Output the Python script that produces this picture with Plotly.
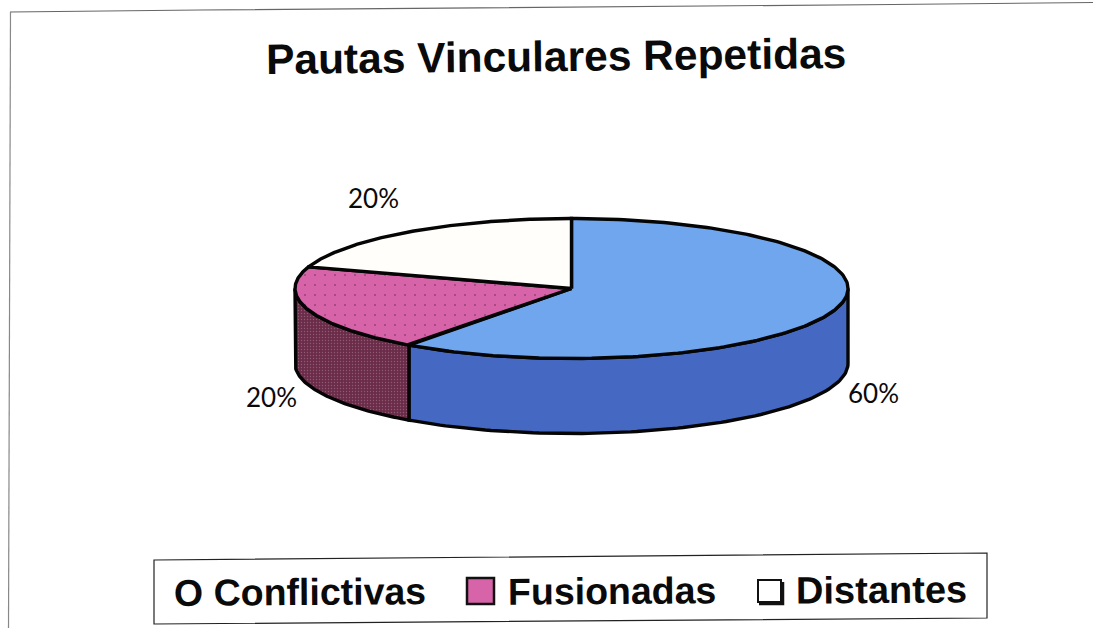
import numpy as np
import plotly.graph_objects as go

categories = ["Conflictivas", "Fusionadas", "Distantes"]
values = [60, 20, 20]
labels = ["60%", "20%", "20%"]
title = "Pautas Vinculares Repetidas"

top_colors = ["#6FA6EE", "#D763A8", "#FFFEFA"]
side_colors = ["#4569C2", "#6B2C4A", "#FFFEFA"]
dot_colors = [None, "#5A2048", None]
side_dot_colors = [None, "#B08C9C", None]

CX, CY, RX, RY, DEPTH = 571.5, 288.5, 276.5, 70, 75

def pt(deg, dy=0.0):
    a = np.radians(deg)
    return CX + RX * np.sin(a), CY - RY * np.cos(a) + dy

fig = go.Figure()
line = dict(color="#050505", width=3.4)
edges = np.concatenate([[0], np.cumsum(values)]) * 3.6

# side walls (only the front half, clockwise-degree 90..270, is visible)
for i in range(3):
    a0, a1 = max(edges[i], 90), min(edges[i + 1], 270)
    if a1 <= a0:
        continue
    t = np.linspace(a0, a1, 100)
    xt, yt = pt(t)
    xb, yb = pt(t[::-1], DEPTH)
    x = np.r_[xt, xb, xt[0]]
    y = np.r_[yt, yb, yt[0]]
    kw = {}
    if side_dot_colors[i]:
        kw["fillpattern"] = dict(shape=".", fgcolor=side_dot_colors[i], bgcolor=side_colors[i], size=3, solidity=0.15)
    fig.add_trace(go.Scatter(x=x, y=y, mode="lines", fill="toself", fillcolor=side_colors[i],
                             line=line, showlegend=False, hoverinfo="skip", **kw))

# top faces
for i in range(3):
    t = np.linspace(edges[i], edges[i + 1], 200)
    xt, yt = pt(t)
    x = np.r_[CX, xt, CX]
    y = np.r_[CY, yt, CY]
    kw = {}
    if dot_colors[i]:
        kw["fillpattern"] = dict(shape=".", fgcolor=dot_colors[i], bgcolor=top_colors[i], size=10, solidity=0.03)
    fig.add_trace(go.Scatter(x=x, y=y, mode="lines", fill="toself", fillcolor=top_colors[i],
                             line=line, name=categories[i], showlegend=False,
                             hovertemplate=categories[i] + ": " + labels[i] + "<extra></extra>", **kw))

def note(text, x, y, size, family="Liberation Sans", bold=False, angle=0, anchor="center"):
    fig.add_annotation(x=x, y=y, text=f"<b>{text}</b>" if bold else text, showarrow=False,
                       xanchor=anchor, yanchor="middle", textangle=angle,
                       font=dict(family=family, size=size, color="#0A0A0A"))

note(title, 556, 56.5, 42.5, bold=True, angle=-0.6)
note(labels[0], 873, 393, 26, family="Lato")
note(labels[1], 271, 397, 26, family="Lato")
note(labels[2], 373, 198, 26, family="Lato")

# legend
note("O " + categories[0], 300, 592, 37.5, bold=True, angle=-0.4)
note(categories[1], 611.5, 590.5, 37.5, bold=True, angle=-0.4)
note(categories[2], 881.5, 589.5, 38, bold=True, angle=-0.4)

shapes = [
    dict(type="path", path="M 154 560 L 987 553 L 987 618 L 154 624 Z",
         line=dict(color="#222222", width=1.2), fillcolor="rgba(255,255,255,0)"),
    dict(type="rect", x0=467, x1=494, y0=578, y1=604, fillcolor=top_colors[1],
         line=dict(color="#111111", width=2.5)),
    dict(type="rect", x0=758, x1=781, y0=580, y1=602, fillcolor="#FFFFFF",
         line=dict(color="#111111", width=2)),
    dict(type="path", path="M 759 604 L 783 604 L 783 582", line=dict(color="#111111", width=2.5)),
    dict(type="path", path="M 10 12 L 200 10 L 893 4.5 L 1093 2.5", line=dict(color="#666666", width=1.2)),
    dict(type="path", path="M 10.5 12 L 8.5 628", line=dict(color="#888888", width=1.2)),
]

fig.update_layout(
    width=1093, height=628, margin=dict(l=0, r=0, t=0, b=0),
    paper_bgcolor="white", plot_bgcolor="white", showlegend=False, shapes=shapes,
    xaxis=dict(range=[0, 1093], visible=False, fixedrange=True),
    yaxis=dict(range=[628, 0], visible=False, fixedrange=True),
)
fig.write_html("out.html", config=dict(displayModeBar=False),
               post_script="document.body.style.margin='0';document.body.style.overflow='hidden';")
